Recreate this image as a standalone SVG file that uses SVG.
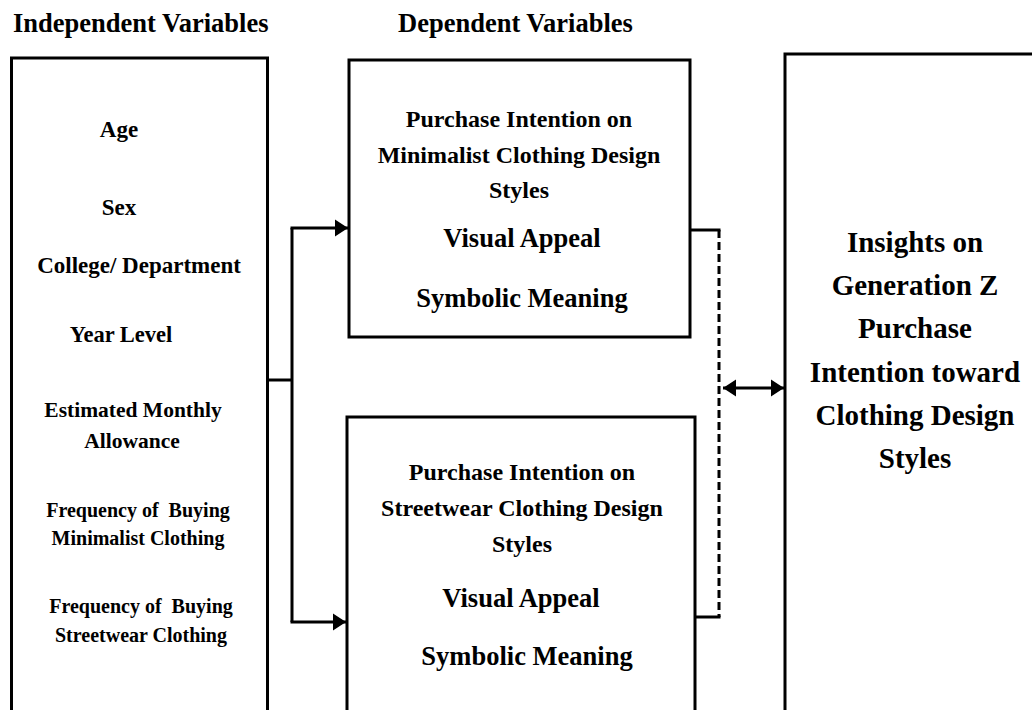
<svg xmlns="http://www.w3.org/2000/svg" width="1032" height="710" viewBox="0 0 1032 710">
  <defs>
    <marker id="arrow" markerUnits="userSpaceOnUse" markerWidth="14" markerHeight="18" refX="13" refY="9" orient="auto-start-reverse">
      <path d="M0,0.5 L13,9 L0,17.5 Z" fill="#000"/>
    </marker>
    <style>
      .box { fill: #fff; stroke: #000; stroke-width: 3; }
      .t { font-family: "Liberation Serif", "Times New Roman", serif; font-weight: bold; fill: #000; text-anchor: middle; white-space: pre; }
      .hdr { font-size: 26.5px; text-anchor: start; }
      .line { fill: none; stroke: #000; stroke-width: 3; }
      .dash { stroke-dasharray: 8 4; }
    </style>
  </defs>
  <rect width="1032" height="710" fill="#fff"/>

  <!-- column headers -->
  <text class="t hdr" x="13" y="32">Independent Variables</text>
  <text class="t hdr" x="398" y="32">Dependent Variables</text>

  <!-- independent variables -->
  <g id="independent">
    <rect class="box" x="11.5" y="58" width="256" height="700"/>
    <text class="t" x="119" y="137" font-size="23">Age</text>
    <text class="t" x="119" y="215" font-size="23">Sex</text>
    <text class="t" x="139" y="273" font-size="23">College/ Department</text>
    <text class="t" x="121" y="342" font-size="22.5">Year Level</text>
    <text class="t" x="133" y="417" font-size="21.5">Estimated Monthly</text>
    <text class="t" x="132" y="448" font-size="21.5">Allowance</text>
    <text class="t" x="138" y="517" font-size="20">Frequency of  Buying</text>
    <text class="t" x="138" y="545" font-size="20">Minimalist Clothing</text>
    <text class="t" x="141" y="613" font-size="20">Frequency of  Buying</text>
    <text class="t" x="141" y="642" font-size="20">Streetwear Clothing</text>
  </g>

  <!-- dependent: minimalist -->
  <g id="minimalist">
    <rect class="box" x="349" y="60" width="341" height="277"/>
    <text class="t" x="519" y="127" font-size="24">Purchase Intention on</text>
    <text class="t" x="519" y="163" font-size="24">Minimalist Clothing Design</text>
    <text class="t" x="519" y="198" font-size="24">Styles</text>
    <text class="t" x="522" y="247" font-size="26.5">Visual Appeal</text>
    <text class="t" x="522" y="307" font-size="26.5">Symbolic Meaning</text>
  </g>

  <!-- dependent: streetwear -->
  <g id="streetwear">
    <rect class="box" x="347" y="417" width="348" height="400"/>
    <text class="t" x="522" y="480" font-size="24">Purchase Intention on</text>
    <text class="t" x="522" y="516" font-size="24">Streetwear Clothing Design</text>
    <text class="t" x="522" y="552" font-size="24">Styles</text>
    <text class="t" x="521" y="607" font-size="26.5">Visual Appeal</text>
    <text class="t" x="527" y="665" font-size="26.5">Symbolic Meaning</text>
  </g>

  <!-- outcome -->
  <g id="insights">
    <rect class="box" x="785" y="54" width="300" height="700"/>
    <text class="t" x="915" y="252" font-size="29">Insights on</text>
    <text class="t" x="915" y="295" font-size="29">Generation Z</text>
    <text class="t" x="915" y="338" font-size="29">Purchase</text>
    <text class="t" x="915" y="382" font-size="29">Intention toward</text>
    <text class="t" x="915" y="425" font-size="29">Clothing Design</text>
    <text class="t" x="915" y="468" font-size="29">Styles</text>
  </g>

  <!-- connectors -->
  <g id="connectors">
    <path class="line" d="M268,380 H292"/>
    <path class="line" d="M292,228 V622"/>
    <path class="line" d="M290.5,228 H348" marker-end="url(#arrow)"/>
    <path class="line" d="M290.5,622 H346" marker-end="url(#arrow)"/>
    <path class="line" d="M690,230 H720.5"/>
    <path class="line dash" d="M719,230 V617"/>
    <path class="line" d="M695,617 H720.5"/>
    <path class="line" d="M723,388 H784" marker-start="url(#arrow)" marker-end="url(#arrow)"/>
  </g>
</svg>
